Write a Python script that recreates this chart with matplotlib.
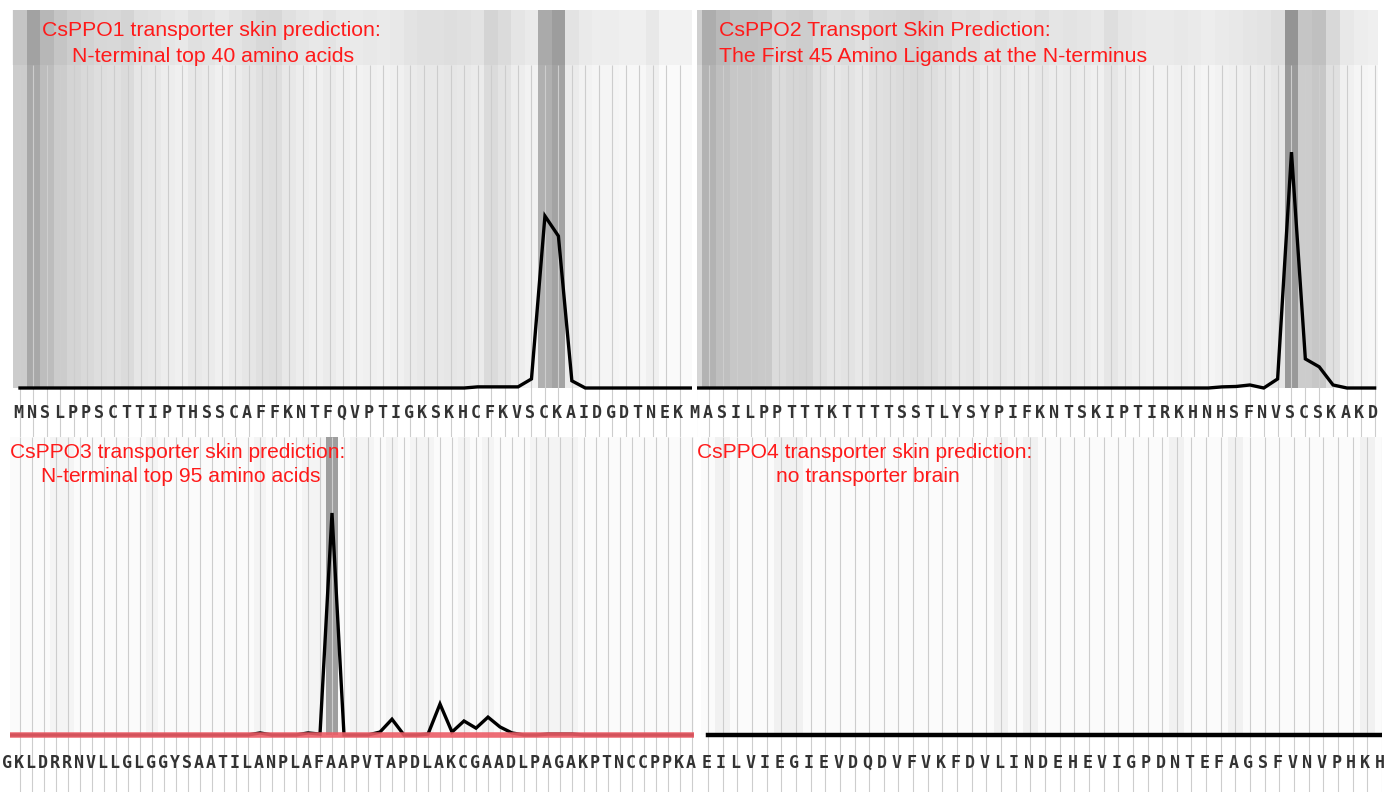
import numpy as np
import matplotlib
matplotlib.use('Agg')
import matplotlib.pyplot as plt

plt.rcParams['font.family'] = ['Liberation Sans', 'DejaVu Sans']

W, H = 1397, 792

# 각 패널 아래의 아미노산 서열
seq1 = 'MNSLPPSCTTIPTHSSCAFFKNTFQVPTIGKSKHCFKVSCKAIDGDTNEK'
seq2 = 'MASILPPTTTKTTTTSSTLYSYPIFKNTSKIPTIRKHNHSFNVSCSKAKD'
seq3 = 'GKLDRRNVLLGLGGYSAATILANPLAFAAPVTAPDLAKCGAADLPAGAKPTNCCPPKA'
seq4 = 'EILVIEGIEVDQDVFVKFDVLINDEHEVIGPDNTEFAGSFVNVPHKH'

# residue score (fraction of the panel height)
score1 = [0, 0, 0, 0, 0, 0, 0, 0, 0, 0,
          0, 0, 0, 0, 0, 0, 0, 0, 0, 0,
          0, 0, 0, 0, 0, 0, 0, 0, 0, 0,
          0, 0, 0, 0, 0.003, 0.003, 0.003, 0.003, 0.024, 0.455,
          0.402, 0.019, 0, 0, 0, 0, 0, 0, 0, 0,
          0]
score2 = [0, 0, 0, 0, 0, 0, 0, 0, 0, 0,
          0, 0, 0, 0, 0, 0, 0, 0, 0, 0,
          0, 0, 0, 0, 0, 0, 0, 0, 0, 0,
          0, 0, 0, 0, 0, 0, 0, 0, 0.003, 0.004,
          0.008, 0, 0.024, 0.624, 0.077, 0.056, 0.008, 0, 0, 0]
score3 = [0, 0, 0, 0, 0, 0, 0, 0, 0, 0,
          0, 0, 0, 0, 0, 0, 0, 0, 0, 0,
          0, 0.007, 0, 0, 0, 0.007, 0.003, 0.745, 0, 0,
          0, 0.01, 0.053, 0, 0, 0.003, 0.104, 0.01, 0.047, 0.023,
          0.06, 0.027, 0.007, 0, 0, 0.003, 0.003, 0.003, 0, 0,
          0, 0, 0, 0, 0, 0, 0, 0]
score4 = [0, 0, 0, 0, 0, 0, 0, 0, 0, 0,
          0, 0, 0, 0, 0, 0, 0, 0, 0, 0,
          0, 0, 0, 0, 0, 0, 0, 0, 0, 0,
          0, 0, 0, 0, 0, 0, 0, 0, 0, 0,
          0, 0, 0, 0, 0, 0, 0]

# background gray level of each residue column (1 = white)
shade1 = [0.80, 0.66, 0.74, 0.80, 0.83, 0.85, 0.87, 0.88, 0.86, 0.90,
          0.91, 0.93, 0.94, 0.91, 0.92, 0.94, 0.92, 0.90, 0.88, 0.87,
          0.91, 0.93, 0.94, 0.92, 0.94, 0.95, 0.94, 0.95, 0.94, 0.92,
          0.91, 0.91, 0.90, 0.91, 0.92, 0.86, 0.89, 0.93, 0.95, 0.69,
          0.64, 0.92, 0.95, 0.96, 0.96, 0.97, 0.97, 0.94, 0.98, 0.98,
          0.98]
shade2 = [0.84, 0.70, 0.75, 0.78, 0.78, 0.79, 0.86, 0.84, 0.83, 0.88,
          0.90, 0.89, 0.91, 0.88, 0.87, 0.86, 0.85, 0.87, 0.89, 0.91,
          0.90, 0.92, 0.91, 0.92, 0.93, 0.91, 0.93, 0.92, 0.93, 0.94,
          0.90, 0.93, 0.94, 0.95, 0.95, 0.94, 0.95, 0.96, 0.95, 0.94,
          0.93, 0.92, 0.90, 0.60, 0.80, 0.78, 0.88, 0.94, 0.96, 0.97]
shade3 = [0.985, 0.985, 0.985, 0.985, 0.955, 0.955, 0.985, 0.985, 0.985, 0.985,
          0.985, 0.985, 0.955, 0.985, 0.985, 0.985, 0.985, 0.985, 0.985, 0.985,
          0.985, 0.955, 0.985, 0.985, 0.985, 0.955, 0.955, 0.62, 0.985, 0.955,
          0.955, 0.985, 0.955, 0.985, 0.955, 0.955, 0.985, 0.985, 0.955, 0.985,
          0.955, 0.985, 0.985, 0.985, 0.955, 0.955, 0.955, 0.955, 0.985, 0.985,
          0.985, 0.985, 0.985, 0.985, 0.985, 0.985, 0.985, 0.985]
shade4 = [0.985, 0.945, 0.985, 0.985, 0.985, 0.945, 0.945, 0.985, 0.985, 0.985,
          0.985, 0.985, 0.985, 0.985, 0.985, 0.985, 0.985, 0.985, 0.985, 0.985,
          0.945, 0.985, 0.945, 0.985, 0.985, 0.985, 0.985, 0.985, 0.985, 0.985,
          0.985, 0.985, 0.945, 0.985, 0.985, 0.985, 0.945, 0.985, 0.985, 0.985,
          0.985, 0.985, 0.985, 0.985, 0.985, 0.945, 0.985]

title1 = ['CsPPO1 transporter skin prediction:', 'N-terminal top 40 amino acids']
title2 = ['CsPPO2 Transport Skin Prediction:', 'The First 45 Amino Ligands at the N-terminus']
title3 = ['CsPPO3 transporter skin prediction:', 'N-terminal top 95 amino acids']
title4 = ['CsPPO4 transporter skin prediction:', 'no transporter brain']

fig = plt.figure(figsize=(W / 100, H / 100), dpi=100)
fig.patch.set_facecolor('white')


def draw_panel(left, right, top, base, bottom, x0, step, seq, score, shade,
               band=False, red=False, lw=2.4):
    # axes covers the striped area plus the sequence strip below it
    ax = fig.add_axes([left / W, 1 - bottom / H, (right - left) / W, (bottom - top) / H])
    ylo = -(bottom - base) / (base - top)
    ax.set_xlim((left - x0) / step, (right - x0) / step)
    ax.set_ylim(ylo, 1)
    ax.axis('off')

    pos = np.arange(len(shade))
    ax.bar(pos, 1, width=1.0, bottom=0, color=[str(s) for s in shade],
           linewidth=0, zorder=1)
    line_top = 1
    if band:
        line_top = 1 - 55 / (base - top)
        ax.axhspan(line_top, 1, color='black', alpha=0.03, lw=0, zorder=1.2)
    ax.vlines(pos, ylo, line_top, color='#cdcdcd', lw=0.8, zorder=1.5)

    ax.plot(np.arange(len(score)), score, color='black', lw=lw, zorder=3,
            solid_joinstyle='miter')
    if red:
        ax.axhline(0, color='#ec5c66', lw=4.0, alpha=0.9, zorder=4)

    y_txt = -(25 if bottom < 500 else 28) / (base - top)
    for i, ch in enumerate(seq):
        ax.text(i - 0.12, y_txt, ch, ha='center', va='center', fontsize=12,
                family='DejaVu Sans Mono', fontweight='bold', color='#333333',
                clip_on=False, zorder=5)
    return ax


draw_panel(12, 692, 10, 388, 437, 20, 13.46, seq1, score1, shade1, band=True)
draw_panel(697, 1378, 10, 388, 437, 695.5, 13.86, seq2, score2, shade2, band=True)
draw_panel(10, 694, 437, 735, 792, 8, 12.0, seq3, score3, shade3, red=True)
draw_panel(697, 1382, 437, 735, 792, 708, 14.65, seq4, score4, shade4, lw=3.2)

red = '#ff1a1a'
fig.text(211 / W, 1 - 30 / H, title1[0], color=red, fontsize=15.3, ha='center', va='center')
fig.text(213 / W, 1 - 57 / H, title1[1], color=red, fontsize=15.3, ha='center', va='center')
fig.text(719 / W, 1 - 30 / H, title2[0], color=red, fontsize=15.3, ha='left', va='center')
fig.text(719 / W, 1 - 57 / H, title2[1], color=red, fontsize=15.3, ha='left', va='center')
fig.text(178 / W, 1 - 452 / H, title3[0], color=red, fontsize=15.1, ha='center', va='center')
fig.text(181 / W, 1 - 477 / H, title3[1], color=red, fontsize=15.1, ha='center', va='center')
fig.text(865 / W, 1 - 452 / H, title4[0], color=red, fontsize=15.1, ha='center', va='center')
fig.text(868 / W, 1 - 477 / H, title4[1], color=red, fontsize=15.1, ha='center', va='center')

fig.savefig('out.png', dpi=100, facecolor='white')
